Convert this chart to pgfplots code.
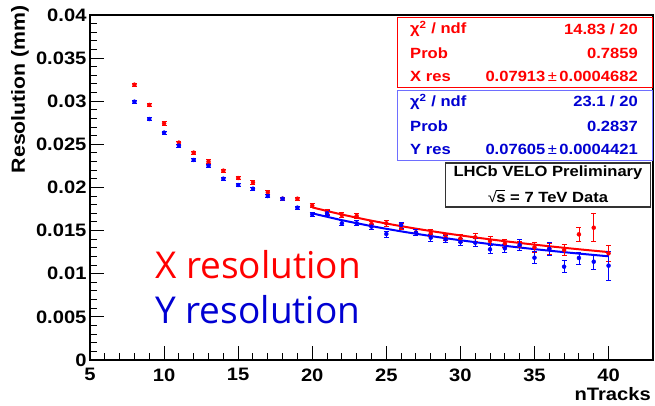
\documentclass[border=0pt]{standalone}
\usepackage{fontspec}
\setmainfont[FakeStretch=1.12]{Liberation Sans}
\newfontfamily\comic{Open Sans}
\usepackage{pgfplots}
\usepackage{pgfplotstable}
\pgfplotsset{compat=1.18}
\definecolor{rootred}{RGB}{255,0,0}
\definecolor{rootblue}{RGB}{0,0,255}
\definecolor{txtblue}{RGB}{0,0,210}
\definecolor{boxblue}{RGB}{110,110,255}

\pgfplotstableread{
x y e
8 0.03192 0.00020
9 0.02957 0.00020
10 0.02744 0.00020
11 0.02520 0.00020
12 0.02404 0.00020
13 0.02300 0.00020
14 0.02195 0.00020
15 0.02110 0.00020
16 0.02060 0.00020
17 0.01944 0.00020
18 0.01870 0.00020
19 0.01870 0.00020
20 0.01789 0.00025
21 0.01720 0.00030
22 0.01681 0.00030
23 0.01670 0.00030
24 0.01577 0.00030
25 0.01585 0.00035
26 0.01546 0.00035
27 0.01480 0.00035
28 0.01469 0.00040
29 0.01422 0.00040
30 0.01407 0.00045
31 0.01422 0.00045
32 0.01380 0.00050
33 0.01353 0.00050
34 0.01325 0.00055
35 0.01306 0.00060
36 0.01291 0.00065
37 0.01275 0.00065
38 0.01457 0.00080
39 0.01534 0.00160
40 0.01237 0.00090
}\xdata

\pgfplotstableread{
x y e
8 0.02995 0.00020
9 0.02794 0.00020
10 0.02636 0.00020
11 0.02485 0.00020
12 0.02319 0.00020
13 0.02253 0.00020
14 0.02102 0.00020
15 0.02029 0.00020
16 0.01986 0.00020
17 0.01901 0.00020
18 0.01870 0.00020
19 0.01766 0.00020
20 0.01689 0.00025
21 0.01701 0.00030
22 0.01585 0.00030
23 0.01585 0.00030
24 0.01546 0.00030
25 0.01461 0.00035
26 0.01565 0.00035
27 0.01476 0.00035
28 0.01418 0.00040
29 0.01399 0.00040
30 0.01368 0.00045
31 0.01360 0.00045
32 0.01283 0.00050
33 0.01295 0.00050
34 0.01333 0.00060
35 0.01186 0.00070
36 0.01287 0.00080
37 0.01082 0.00070
38 0.01183 0.00070
39 0.01140 0.00090
40 0.01094 0.00170
}\ydata

\begin{document}
\begin{tikzpicture}[x=1pt,y=1pt]
\path[use as bounding box] (0,0) rectangle (655,406);
\begin{axis}[
  at={(90pt,46pt)}, anchor=south west, scale only axis,
  width=563pt, height=345pt,
  xmin=5, xmax=43, ymin=0, ymax=0.04,
  xtick={5,10,15,20,25,30,35,40}, minor x tick num=4,
  ytick={0,0.005,0.01,0.015,0.02,0.025,0.03,0.035,0.04}, minor y tick num=4,
  yticklabels={0,0.005,0.01,0.015,0.02,0.025,0.03,0.035,0.04},
  scaled y ticks=false,
  tick align=inside, xtick pos=bottom, ytick pos=left,
  axis line style={line width=1.3pt},
  major tick length=14pt, minor tick length=7pt,
  every tick/.style={black, line width=1pt},
  /pgf/number format/assume math mode=true,
  tick label style={font=\bfseries\fontsize{18}{18}\selectfont},
  yticklabel style={xshift=0pt},
  xticklabel style={yshift=-5pt},
  clip=false,
]
\addplot[rootblue, line width=2pt, smooth] coordinates {
 (20,0.017005) (22,0.016214) (24,0.015524) (26,0.014915) (28,0.014372)
 (30,0.013885) (32,0.013444) (34,0.013042) (36,0.012675) (38,0.012337) (40,0.012024)};
\addplot[rootred, line width=2pt, smooth] coordinates {
 (20,0.017694) (22,0.016871) (24,0.016152) (26,0.015519) (28,0.014954)
 (30,0.014447) (32,0.013988) (34,0.013571) (36,0.013188) (38,0.012837) (40,0.012511)};
\addplot[rootred, only marks, mark=*, mark size=2pt,
  error bars/.cd, y dir=both, y explicit,
  error bar style={line width=0.8pt},
  error mark options={rotate=90, mark size=2.5pt, line width=0.8pt}]
  table[x=x, y=y, y error=e] {\xdata};
\addplot[rootblue, only marks, mark=*, mark size=2pt,
  error bars/.cd, y dir=both, y explicit,
  error bar style={line width=0.8pt},
  error mark options={rotate=90, mark size=2.5pt, line width=0.8pt}]
  table[x=x, y=y, y error=e] {\ydata};
\end{axis}

% axis titles
\node[rotate=90, anchor=east, inner sep=0pt, font=\bfseries\fontsize{19}{19}\selectfont] at (20,401) {Resolution (mm)};
\node[anchor=base east, inner sep=0pt, font=\bfseries\fontsize{18}{18}\selectfont] at (651,5) {nTracks};

% legend-like text
\node[anchor=base west, inner sep=0pt, text=rootred, font=\comic\fontsize{37}{37}\selectfont] at (155,127) {X resolution};
\node[anchor=base west, inner sep=0pt, text=txtblue, font=\comic\fontsize{37}{37}\selectfont] at (155,82) {Y resolution};

% red stat box
\draw[rootred, line width=1pt, fill=white] (397,318.7) rectangle (652,388.7);
\begin{scope}[every node/.style={inner sep=0pt, text=rootred, font=\bfseries\fontsize{14.8}{14.8}\selectfont}]
\node[anchor=west] at (410,376.7) {χ\textsuperscript{2} / ndf};
\node[anchor=west] at (410,352.7) {Prob};
\node[anchor=west] at (410,329.3) {X res};
\node[anchor=east] at (638,376.7) {14.83 / 20};
\node[anchor=east] at (638,352.7) {0.7859};
\node[anchor=east] at (638,329.3) {0.07913\,{\mdseries ±}\,0.0004682};
\end{scope}

% blue stat box
\draw[boxblue, line width=1pt, fill=white] (397,245.3) rectangle (652,315.3);
\begin{scope}[every node/.style={inner sep=0pt, text=txtblue, font=\bfseries\fontsize{14.8}{14.8}\selectfont}]
\node[anchor=west] at (410,304.3) {χ\textsuperscript{2} / ndf};
\node[anchor=west] at (410,279.3) {Prob};
\node[anchor=west] at (410,256.7) {Y res};
\node[anchor=east] at (638,304.3) {23.1 / 20};
\node[anchor=east] at (638,279.3) {0.2837};
\node[anchor=east] at (638,256.7) {0.07605\,{\mdseries ±}\,0.0004421};
\end{scope}

% LHCb box
\draw[black!80, line width=1.2pt, fill=white] (445.7,199) rectangle (650.7,243);
\node[inner sep=0pt, font=\bfseries\fontsize{14.8}{14.8}\selectfont] at (548,233.3) {LHCb VELO Preliminary};
\node[inner sep=0pt, font=\bfseries\fontsize{14.8}{14.8}\selectfont] at (548,209.3) {{\mdseries √}\kern-0.6pt\smash{\rlap{\rule[11.2pt]{9pt}{0.9pt}}}s = 7 TeV Data};
\end{tikzpicture}
\end{document}
